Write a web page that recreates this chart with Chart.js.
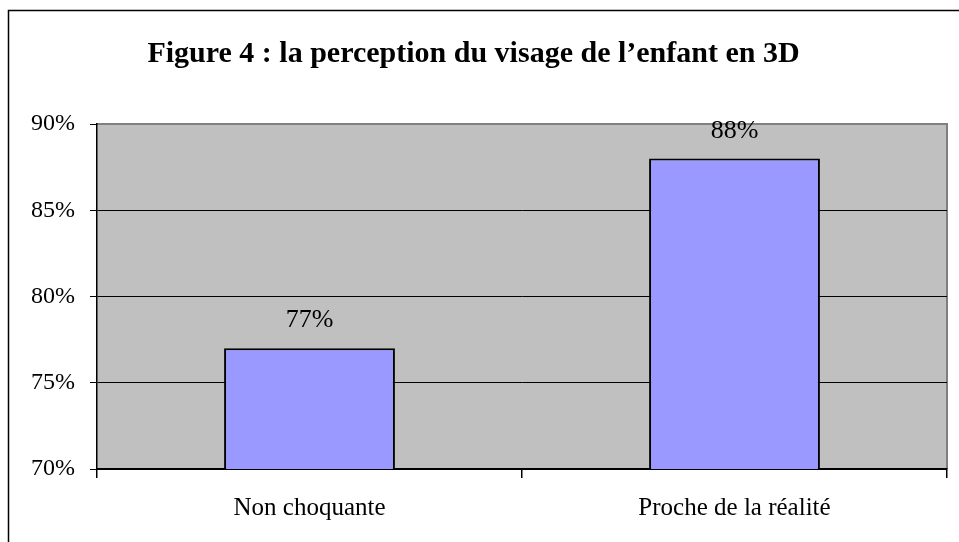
<!DOCTYPE html>
<html>
<head>
<meta charset="utf-8">
<script src="https://cdn.jsdelivr.net/npm/chart.js@4/dist/chart.umd.min.js"></script>
<style>
html,body{margin:0;padding:0;background:#fff;}
#wrap{position:relative;width:959px;height:542px;}
</style>
</head>
<body>
<div id="wrap"><canvas id="c" width="959" height="542"></canvas></div>
<script>
const titleText = "Figure 4 : la perception du visage de l\u2019enfant en 3D";
const categories = ["Non choquante", "Proche de la r\u00e9alit\u00e9"];
const values = [77, 88];
const yMin = 70, yMax = 90, yStep = 5;

const FONT = "'Liberation Serif', 'Times New Roman', serif";

const decor = {
  id: 'decor',
  beforeDraw(chart) {
    const {ctx, chartArea: a} = chart;
    ctx.save();
    ctx.fillStyle = '#fff';
    ctx.fillRect(0, 0, chart.width, chart.height);
    // outer frame
    ctx.strokeStyle = '#000';
    ctx.lineWidth = 1.5;
    ctx.beginPath();
    ctx.moveTo(8.5, chart.height + 2);
    ctx.lineTo(8.5, 10.5);
    ctx.lineTo(chart.width + 2, 10.5);
    ctx.stroke();
    // plot background
    ctx.fillStyle = '#C0C0C0';
    ctx.fillRect(a.left, a.top, a.right - a.left, a.bottom - a.top);
    // top & right border gray
    ctx.strokeStyle = '#808080';
    ctx.lineWidth = 2;
    ctx.beginPath();
    ctx.moveTo(a.left, a.top);
    ctx.lineTo(a.right, a.top);
    ctx.lineTo(a.right, a.bottom);
    ctx.stroke();
    ctx.restore();
  },
  afterDatasetsDraw(chart) {
    const {ctx} = chart;
    const meta = chart.getDatasetMeta(0);
    ctx.save();
    ctx.fillStyle = '#000';
    ctx.font = '26px ' + FONT;
    ctx.textAlign = 'center';
    ctx.textBaseline = 'alphabetic';
    meta.data.forEach((bar, i) => {
      ctx.fillText(values[i] + '%', bar.x, bar.y - 21);
    });
    ctx.restore();
  }
};

new Chart(document.getElementById('c'), {
  type: 'bar',
  data: {
    labels: categories,
    datasets: [{
      data: values,
      backgroundColor: '#9999FF',
      borderColor: '#000',
      borderWidth: 2,
      borderSkipped: false,
      categoryPercentage: 1,
      barPercentage: 0.402
    }]
  },
  options: {
    responsive: false,
    animation: false,
    layout: { padding: { left: 0, right: 12, top: 0, bottom: 4 } },
    plugins: {
      legend: { display: false },
      tooltip: { enabled: false },
      title: {
        display: true,
        text: titleText,
        color: '#000',
        font: { family: FONT, size: 30, weight: 'bold' },
        padding: { top: 36, bottom: 52 }
      }
    },
    scales: {
      x: {
        grid: {
          offset: true,
          drawOnChartArea: false,
          color: '#000',
          tickColor: '#000',
          tickLength: 9,
          lineWidth: 1.5
        },
        border: { color: '#000', width: 2 },
        ticks: {
          color: '#000',
          font: { family: FONT, size: 25 },
          padding: 15,
          maxRotation: 0
        }
      },
      y: {
        min: yMin,
        max: yMax,
        afterFit(scale) { scale.width = 97; },
        grid: {
          color: (c) => (c.tick && c.tick.value === yMax) ? 'rgba(0,0,0,0)' : '#000',
          tickColor: '#000',
          tickLength: 7,
          lineWidth: 1
        },
        border: { color: '#000', width: 1.5 },
        ticks: {
          stepSize: yStep,
          color: '#000',
          font: { family: FONT, size: 24 },
          padding: 15,
          callback: (v) => v + '%'
        }
      }
    }
  },
  plugins: [decor]
});
</script>
</body>
</html>
